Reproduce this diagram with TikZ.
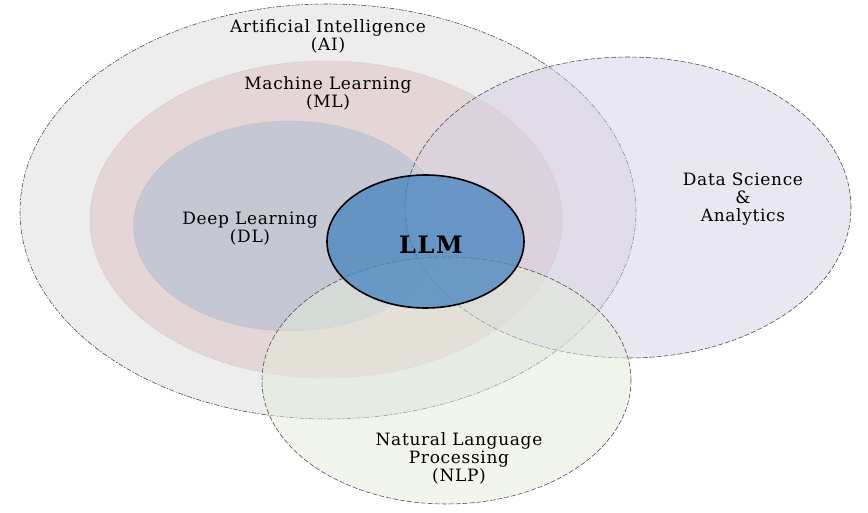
\documentclass[tikz,border=0pt]{standalone}
\usepackage{fontspec}
\setmainfont{DejaVu Serif}
\usepackage{xcolor}
\definecolor{aiGray}{RGB}{237,237,237}
\definecolor{mlRose}{RGB}{228,214,214}
\definecolor{dlSlate}{RGB}{197,200,210}
\definecolor{dsLilac}{RGB}{212,207,230}
\definecolor{nlpSage}{RGB}{227,236,216}
\definecolor{llmBlue}{RGB}{74,134,192}
\definecolor{edgeGray}{RGB}{70,70,70}
\usepackage{tikz}
\usetikzlibrary{positioning,shapes.geometric}

\begin{document}
\begin{tikzpicture}[x=1pt,y=-1pt,
  field/.style={ellipse,inner sep=0pt,outer sep=0pt},
  outer/.style={field,draw=edgeGray,line width=0.55pt,dash pattern=on 5pt off 1.5pt on 1.5pt off 1.5pt},
  inner/.style={field,draw=gray!70,line width=0.4pt,densely dotted},
  side/.style={field,draw=edgeGray,line width=0.55pt,dash pattern=on 5pt off 2pt,fill opacity=0.5},
  tag/.style={align=center,font=\fontsize{17}{18}\selectfont\addfontfeature{LetterSpace=4},text=black}]
  \useasboundingbox (0,0) rectangle (868,513);
  % nested fields
  \node[outer,fill=aiGray,minimum width=616pt,minimum height=415pt] (ai) at (328,211.5) {};
  \node[inner,fill=mlRose,minimum width=472pt,minimum height=317pt] (ml) at (326,219.5) {};
  \node[inner,fill=dlSlate,minimum width=312pt,minimum height=210pt] (dl) at (289.5,226) {};
  % overlapping fields
  \node[side,fill=dsLilac,minimum width=446pt,minimum height=301pt] (ds) at (628,207.5) {};
  \node[side,fill=nlpSage,minimum width=369pt,minimum height=247pt] (nlp) at (446.5,380.5) {};
  \node[field,draw=black,line width=1.6pt,fill=llmBlue,fill opacity=0.78,
    minimum width=197pt,minimum height=133pt] (llm) at (425.5,241.5) {};

  \node[tag] (aiText) at (328,36) {Artificial Intelligence\\(AI)};
  \node[tag] (mlText) at (328,93) {Machine Learning\\(ML)};
  \node[tag] (dlText) at (250,229) {Deep Learning\\(DL)};
  \node[tag] (dsText) at (743,199) {Data Science\\\&\\Analytics};
  \node[tag] (nlpText) at (459,458) {Natural Language\\Processing\\(NLP)};
  \node[font=\fontsize{24}{26}\selectfont\bfseries\addfontfeature{LetterSpace=7}] (llmText) at (431,245) {LLM};
\end{tikzpicture}
\end{document}
